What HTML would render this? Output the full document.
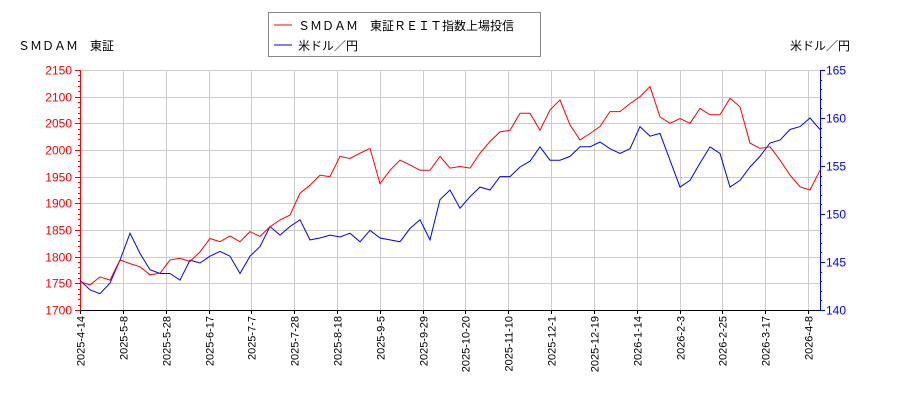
<!DOCTYPE html>
<html><head><meta charset="utf-8"><style>
body{margin:0;background:#fff;}
svg{display:block;font-family:"Liberation Sans","Noto Sans CJK JP",sans-serif;}
</style></head><body>
<svg id="chart" width="900" height="400">
<g id="grid"></g>
<g id="axes"></g>
<g id="series"></g>
<text x="18" y="50" font-size="12">ＳＭＤＡＭ　東証</text>
<text x="790" y="50" font-size="12">米ドル／円</text>
<g>
<rect x="268.5" y="12.5" width="272" height="44" fill="#fff" stroke="#888"/>
<line x1="274" y1="25" x2="292" y2="25" stroke="#f00"/>
<text x="298" y="30" font-size="12">ＳＭＤＡＭ　東証ＲＥＩＴ指数上場投信</text>
<line x1="274" y1="45" x2="292" y2="45" stroke="#00f"/>
<text x="298" y="50" font-size="12">米ドル／円</text>
</g>
</svg>
<script>
const xLabels=["2025-4-14","2025-5-8","2025-5-28","2025-6-17","2025-7-7","2025-7-28","2025-8-18","2025-9-5","2025-9-29","2025-10-20","2025-11-10","2025-12-1","2025-12-19","2026-1-14","2026-2-3","2026-2-25","2026-3-17","2026-4-8"];
const xLabelPos=[0,4.3,8.6,12.9,17.1,21.4,25.7,30,34.3,38.5,42.8,47.1,51.4,55.7,60,64.2,68.5,72.8];
const leftTicks=[1700,1750,1800,1850,1900,1950,2000,2050,2100,2150];
const rightTicks=[140,145,150,155,160,165];
const reitValues=[1753,1747,1762,1756,1794,1787,1781,1766,1769,1794,1797,1791,1809,1834,1828,1839,1828,1847,1838,1856,1869,1878,1919,1934,1953,1950,1988,1984,1994,2003,1937,1962,1981,1972,1962,1962,1988,1966,1969,1966,1994,2016,2034,2037,2069,2069,2037,2075,2094,2047,2019,2031,2044,2072,2072,2087,2100,2119,2062,2050,2059,2050,2078,2066,2066,2097,2081,2013,2003,2006,1981,1953,1931,1925,1962];
const usdValues=[143.1,142.1,141.7,142.8,145.2,148.0,145.9,144.2,143.8,143.8,143.1,145.2,144.9,145.6,146.1,145.6,143.8,145.6,146.6,148.7,147.8,148.7,149.4,147.3,147.5,147.8,147.6,148.0,147.1,148.3,147.5,147.3,147.1,148.5,149.4,147.3,151.5,152.5,150.6,151.8,152.8,152.5,153.9,153.9,154.9,155.5,157.0,155.6,155.6,156.0,157.0,157.0,157.5,156.8,156.3,156.8,159.1,158.1,158.4,155.6,152.8,153.5,155.3,157.0,156.3,152.8,153.5,154.9,156.0,157.4,157.7,158.8,159.1,160.0,158.8];
const NS="http://www.w3.org/2000/svg";
const X0=80,X1=820,Y0=310,Y1=70;
function xs(i){return X0+i*(X1-X0)/(reitValues.length-1);}
function yL(v){return Y0-(v-1700)*(Y0-Y1)/450;}
function yR(v){return Y0-(v-140)*(Y0-Y1)/25;}
function mk(tag,attrs,parent){const e=document.createElementNS(NS,tag);for(const k in attrs)e.setAttribute(k,attrs[k]);parent.appendChild(e);return e;}
const grid=document.getElementById('grid'),axes=document.getElementById('axes'),ser=document.getElementById('series');
leftTicks.forEach(v=>{const y=Math.round(yL(v))+.5;
 const g=mk('line',{x1:X0,x2:X1,y1:y,y2:y,stroke:'#ccc'},grid);
 
 
 const t=mk('text',{x:72,y:y+4,'text-anchor':'end','font-size':12,fill:'#f00'},axes);t.textContent=v;
 
 
 mk('line',{x1:X0-5,x2:X0,y1:y,y2:y,stroke:'#f00'},axes);
});
for(let v=1700;v<=2150;v+=10){const y=Math.round(yL(v))+.5;mk('line',{x1:X0-2,x2:X0,y1:y,y2:y,stroke:'#f00'},axes);}
rightTicks.forEach(v=>{const y=Math.round(yR(v))+.5;
 const t=mk('text',{x:826,y:y+4,'font-size':12,fill:'#00f'},axes);t.textContent=v;
 
 
 mk('line',{x1:X1,x2:X1+5,y1:y,y2:y,stroke:'#00f'},axes);
});
for(let v=140;v<=165;v+=1){const y=Math.round(yR(v))+.5;mk('line',{x1:X1,x2:X1+2,y1:y,y2:y,stroke:'#00f'},axes);}
xLabelPos.forEach((p,i)=>{const x=Math.round(xs(p))+.5;
 const g=mk('line',{x1:x,x2:x,y1:Y1,y2:Y0,stroke:'#ccc'},grid);
 
 
 mk('line',{x1:x,x2:x,y1:Y0,y2:Y0+4,stroke:'#000'},axes);
 const t=mk('text',{x:0,y:0,'font-size':11,'text-anchor':'end',transform:`translate(${x+4},${Y0+6}) rotate(-90)`},axes);t.textContent=xLabels[i];
 
 
});
mk('line',{x1:X0+.5,x2:X0+.5,y1:Y1,y2:Y0,stroke:'#f00'},axes);
mk('line',{x1:X1+.5,x2:X1+.5,y1:Y1,y2:Y0,stroke:'#00f'},axes);
mk('line',{x1:X0,x2:X1,y1:Y0+.5,y2:Y0+.5,stroke:'#000'},axes);
const pb=mk('polyline',{points:usdValues.map((v,i)=>xs(i).toFixed(1)+','+yR(v).toFixed(1)).join(' '),fill:'none',stroke:'#00f','stroke-width':1},ser);


const pr=mk('polyline',{points:reitValues.map((v,i)=>xs(i).toFixed(1)+','+yL(v).toFixed(1)).join(' '),fill:'none',stroke:'#f00','stroke-width':1},ser);


</script>
</body></html>
